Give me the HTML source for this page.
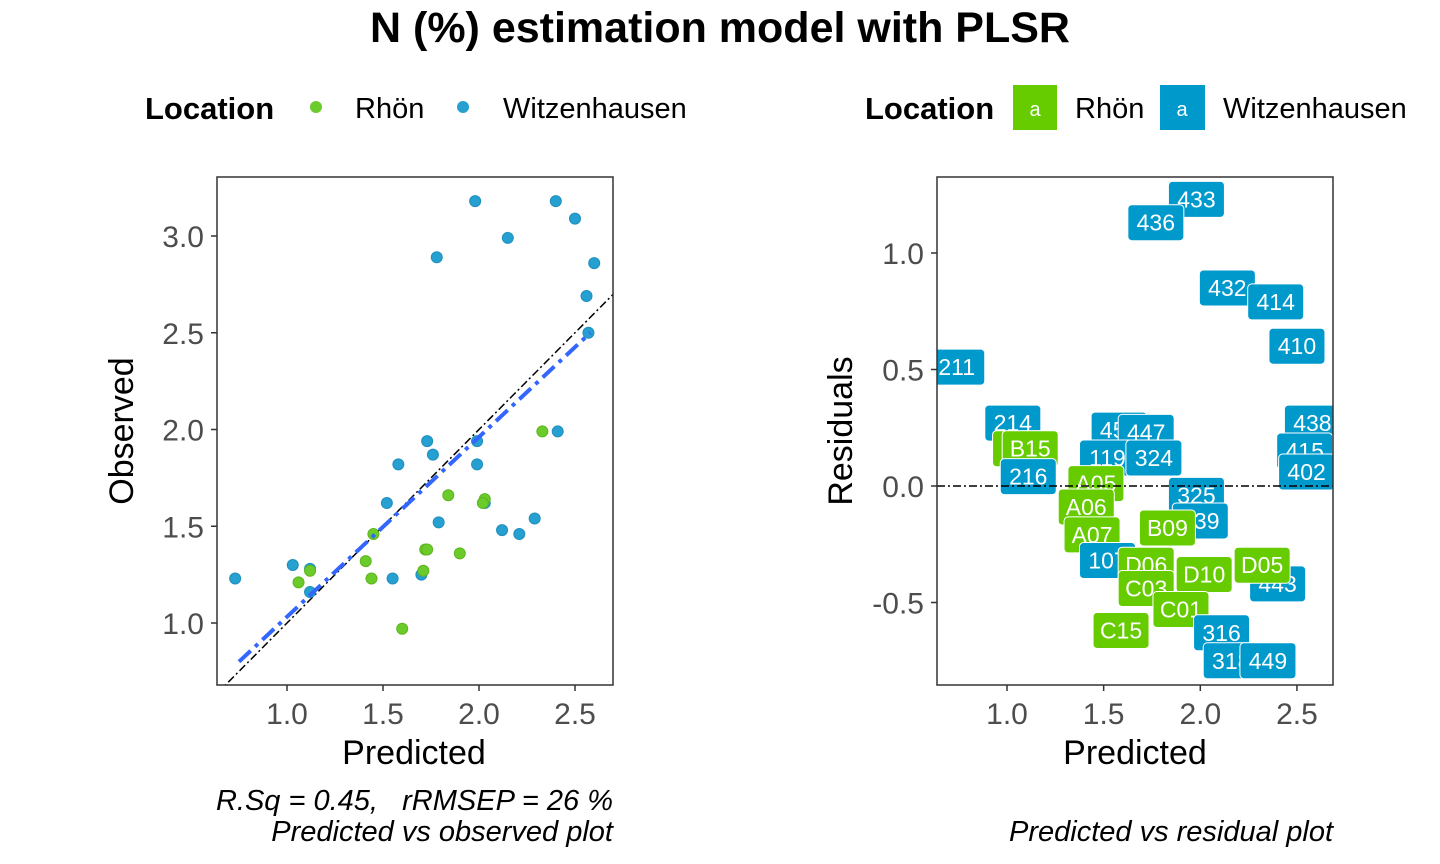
<!DOCTYPE html>
<html><head><meta charset="utf-8"><style>
html,body{margin:0;padding:0;background:#fff;}
svg{display:block;font-family:"Liberation Sans",Arial,sans-serif;}
</style></head><body>
<svg id="chart" width="1440" height="864" viewBox="0 0 1440 864">
<defs>
<clipPath id="clipL"><rect x="217" y="177" width="396" height="508"/></clipPath>
<clipPath id="clipR"><rect x="937" y="177" width="396" height="508"/></clipPath>
</defs>
<text x="720" y="42" text-anchor="middle" font-size="43" font-weight="bold">N (%) estimation model with PLSR</text>

<g>
<text x="145" y="119" font-size="31" font-weight="bold">Location</text>
<circle cx="316" cy="107" r="6" fill="#6BCB2A"/>
<text x="355" y="118" font-size="29">Rhön</text>
<circle cx="463" cy="107" r="6" fill="#25A0D0"/>
<text x="503" y="118" font-size="29">Witzenhausen</text>
</g>
<g>
<text x="865" y="119" font-size="31" font-weight="bold">Location</text>
<rect x="1013" y="85" width="44" height="45" fill="#66CC00"/>
<text x="1035" y="116" font-size="20" fill="#fff" text-anchor="middle">a</text>
<text x="1075" y="118" font-size="29">Rhön</text>
<rect x="1160" y="85" width="45" height="45" fill="#0099CC"/>
<text x="1182" y="116" font-size="20" fill="#fff" text-anchor="middle">a</text>
<text x="1223" y="118" font-size="29">Witzenhausen</text>
</g>

<g id="left"></g>
<g id="right"></g>

<text x="414" y="764" text-anchor="middle" font-size="34">Predicted</text>
<text transform="translate(133,431) rotate(-90)" text-anchor="middle" font-size="34">Observed</text>
<text x="613" y="810" text-anchor="end" font-size="29" font-style="italic" style="white-space:pre">R.Sq = 0.45,   rRMSEP = 26 %</text>
<text x="613" y="841" text-anchor="end" font-size="29" font-style="italic">Predicted vs observed plot</text>
<text x="1135" y="764" text-anchor="middle" font-size="34">Predicted</text>
<text transform="translate(852,431) rotate(-90)" text-anchor="middle" font-size="34">Residuals</text>
<text x="1333" y="841" text-anchor="end" font-size="29" font-style="italic">Predicted vs residual plot</text>
</svg>
<script>
// Left panel data
const witzPred = [0.73,1.03,1.12,1.12,1.55,1.52,1.58,1.70,1.73,1.76,1.78,1.79,1.98,1.99,1.99,2.03,2.12,2.15,2.21,2.29,2.40,2.41,2.50,2.56,2.57,2.60];
const witzObs  = [1.23,1.30,1.28,1.16,1.23,1.62,1.82,1.25,1.94,1.87,2.89,1.52,3.18,1.82,1.94,1.62,1.48,2.99,1.46,1.54,3.18,1.99,3.09,2.69,2.50,2.86];
const rhonPred = [1.06,1.12,1.41,1.44,1.45,1.60,1.71,1.72,1.73,1.84,1.90,2.03,2.02,2.33];
const rhonObs  = [1.21,1.27,1.32,1.23,1.46,0.97,1.27,1.38,1.38,1.66,1.36,1.64,1.62,1.99];
const fitX = [0.75,2.58];
const fitY = [0.80,2.50];
const leftXTicks = [1.0,1.5,2.0,2.5];
const leftYTicks = [1.0,1.5,2.0,2.5,3.0];
// Right panel data
const resLabels = ["433","436","432","414","410","211","214","B14","B15","216","453","447","119","324","438","415","402","A05","A06","A07","325","339","B09","107","D06","C03","443","D10","D05","C01","C15","316","318","449"];
const resPred = [1.98,1.77,2.14,2.39,2.50,0.74,1.03,1.07,1.12,1.11,1.58,1.72,1.52,1.76,2.58,2.54,2.55,1.46,1.41,1.44,1.98,2.00,1.83,1.52,1.72,1.72,2.40,2.02,2.32,1.90,1.59,2.11,2.16,2.35];
const resVal  = [1.23,1.13,0.85,0.79,0.60,0.51,0.27,0.16,0.16,0.04,0.24,0.23,0.12,0.12,0.27,0.15,0.06,0.01,-0.09,-0.21,-0.04,-0.15,-0.18,-0.32,-0.34,-0.44,-0.42,-0.38,-0.34,-0.53,-0.62,-0.63,-0.75,-0.75];
const resGroup = ["W","W","W","W","W","W","W","R","R","W","W","W","W","W","W","W","W","R","R","R","W","W","R","W","R","R","W","R","R","R","R","W","W","W"];
const rightXTicks = [1.0,1.5,2.0,2.5];
const rightYTicks = [-0.5,0.0,0.5,1.0];

const NS="http://www.w3.org/2000/svg";
function mk(tag,attrs,parent){const e=document.createElementNS(NS,tag);for(const k in attrs)e.setAttribute(k,attrs[k]);parent.appendChild(e);return e;}
const lx=v=>287+(v-1)*192, ly=v=>623-(v-1)*193.5;
const rx=v=>1007+(v-1)*193.3, ry=v=>486-v*233;
const L=document.getElementById('left'), R=document.getElementById('right');

// Left panel
const lp=mk('g',{'clip-path':'url(#clipL)'},L);
let d=mk('line',{x1:217,y1:ly((217-287)/192+1),x2:613,y2:ly((613-287)/192+1),stroke:'#000','stroke-width':1.5,'stroke-dasharray':'8,3,2,3'},lp);


witzPred.forEach((p,i)=>{const c=mk('circle',{cx:lx(p),cy:ly(witzObs[i]),r:5.5,fill:'#25A0D0',stroke:'#1F8FBF','stroke-width':1},lp);

});
rhonPred.forEach((p,i)=>{const c=mk('circle',{cx:lx(p),cy:ly(rhonObs[i]),r:5.5,fill:'#6BCB2A',stroke:'#5DB520','stroke-width':1},lp);

});
const fl=mk('line',{x1:lx(fitX[0]),y1:ly(fitY[0]),x2:lx(fitX[1]),y2:ly(fitY[1]),stroke:'#3366FF','stroke-width':4,'stroke-dasharray':'16,6,4,6'},lp);


mk('rect',{x:217,y:177,width:396,height:508,fill:'none',stroke:'#333','stroke-width':1.5},L);
leftXTicks.forEach(t=>{mk('line',{x1:lx(t),y1:685,x2:lx(t),y2:691,stroke:'#333','stroke-width':1.5},L);
const tx=mk('text',{x:lx(t),y:724,'text-anchor':'middle','font-size':30,fill:'#4D4D4D'},L);tx.textContent=t.toFixed(1);

});
leftYTicks.forEach(t=>{mk('line',{x1:211,y1:ly(t),x2:217,y2:ly(t),stroke:'#333','stroke-width':1.5},L);
const tx=mk('text',{x:204,y:ly(t)+11,'text-anchor':'end','font-size':30,fill:'#4D4D4D'},L);tx.textContent=t.toFixed(1);

});

// Right panel
const rp=mk('g',{'clip-path':'url(#clipR)'},R);
resLabels.forEach((lab,i)=>{const cx=rx(resPred[i]),cy=ry(resVal[i]);
const g=mk('g',{},rp);


mk('rect',{x:cx-28,y:cy-18,width:56,height:36,rx:4,fill:resGroup[i]==='R'?'#66CC00':'#0099CC',stroke:'#fff','stroke-width':1},g);
const t=mk('text',{x:cx,y:cy+8,'text-anchor':'middle','font-size':23,fill:'#fff'},g);t.textContent=lab;});
const hl=mk('line',{x1:937,y1:ry(0),x2:1333,y2:ry(0),stroke:'#000','stroke-width':1.5,'stroke-dasharray':'8,3,2,3'},R);


mk('rect',{x:937,y:177,width:396,height:508,fill:'none',stroke:'#333','stroke-width':1.5},R);
rightXTicks.forEach(t=>{mk('line',{x1:rx(t),y1:685,x2:rx(t),y2:691,stroke:'#333','stroke-width':1.5},R);
const tx=mk('text',{x:rx(t),y:724,'text-anchor':'middle','font-size':30,fill:'#4D4D4D'},R);tx.textContent=t.toFixed(1);

});
rightYTicks.forEach(t=>{mk('line',{x1:931,y1:ry(t),x2:937,y2:ry(t),stroke:'#333','stroke-width':1.5},R);
const tx=mk('text',{x:924,y:ry(t)+11,'text-anchor':'end','font-size':30,fill:'#4D4D4D'},R);tx.textContent=t.toFixed(1);

});
</script>
</body></html>
